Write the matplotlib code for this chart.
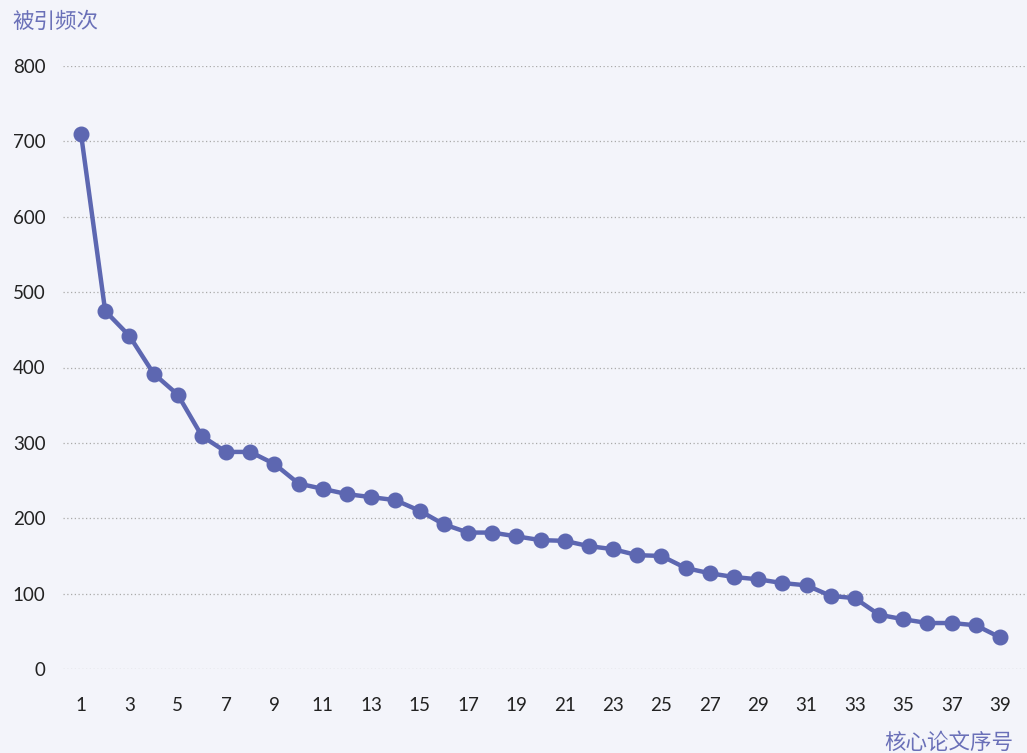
import matplotlib
matplotlib.use("Agg")
import matplotlib.pyplot as plt
from matplotlib.ticker import FixedLocator

plt.rcParams['font.family'] = ['Noto Sans CJK SC', 'DejaVu Sans']

papers = list(range(1, 40))
citations = [710, 475, 442, 392, 364, 309, 288, 288, 272, 246,
             239, 232, 228, 224, 210, 192, 181, 181, 176, 171,
             170, 163, 159, 151, 150, 134, 127, 122, 119, 114,
             111, 97, 94, 72, 66, 61, 61, 58, 42]
y_ticks = [0, 100, 200, 300, 400, 500, 600, 700, 800]
x_ticks = list(range(1, 40, 2))
y_name = "被引频次"
x_name = "核心论文序号"

W, H = 1027, 753
bg = "#f3f4fa"
line_color = "#5d67b1"
name_color = "#6a70b8"

fig = plt.figure(figsize=(W / 100, H / 100), dpi=100, facecolor=bg)
ax = fig.add_axes([63 / W, (H - 669) / H, (W - 63) / W, (669 - 66) / H])
ax.set_facecolor(bg)

ax.plot(papers, citations, color=line_color, linewidth=3.2, marker='o',
        markersize=10.5, markerfacecolor=line_color, markeredgecolor=line_color,
        solid_joinstyle='round', zorder=3, clip_on=False)

spacing = (1000 - 81) / 38
ax.set_xlim(1 - (81 - 63) / spacing, 39 + (W - 1000) / spacing)
ax.set_ylim(0, 800)

ax.yaxis.set_major_locator(FixedLocator(y_ticks))
ax.xaxis.set_major_locator(FixedLocator(x_ticks))
ax.grid(axis='y', color='#aaaaaa', linestyle=(0, (1, 2)), linewidth=0.9)
ax.grid(axis='x', visible=False)
for s in ax.spines.values():
    s.set_visible(False)
ax.tick_params(axis='both', length=0, labelsize=13.5, labelcolor='#222222')
ax.tick_params(axis='y', pad=12.5)
ax.tick_params(axis='x', pad=20)
for lab in ax.get_xticklabels() + ax.get_yticklabels():
    lab.set_fontfamily(['Lato', 'DejaVu Sans'])

fig.text(12 / W, 1 - 22 / H, y_name, color=name_color, fontsize=15.5,
         ha='left', va='center')
fig.text(1013 / W, 1 - 743 / H, x_name, color=name_color, fontsize=15.5,
         ha='right', va='center')

fig.savefig("out.png", dpi=100, facecolor=bg)
